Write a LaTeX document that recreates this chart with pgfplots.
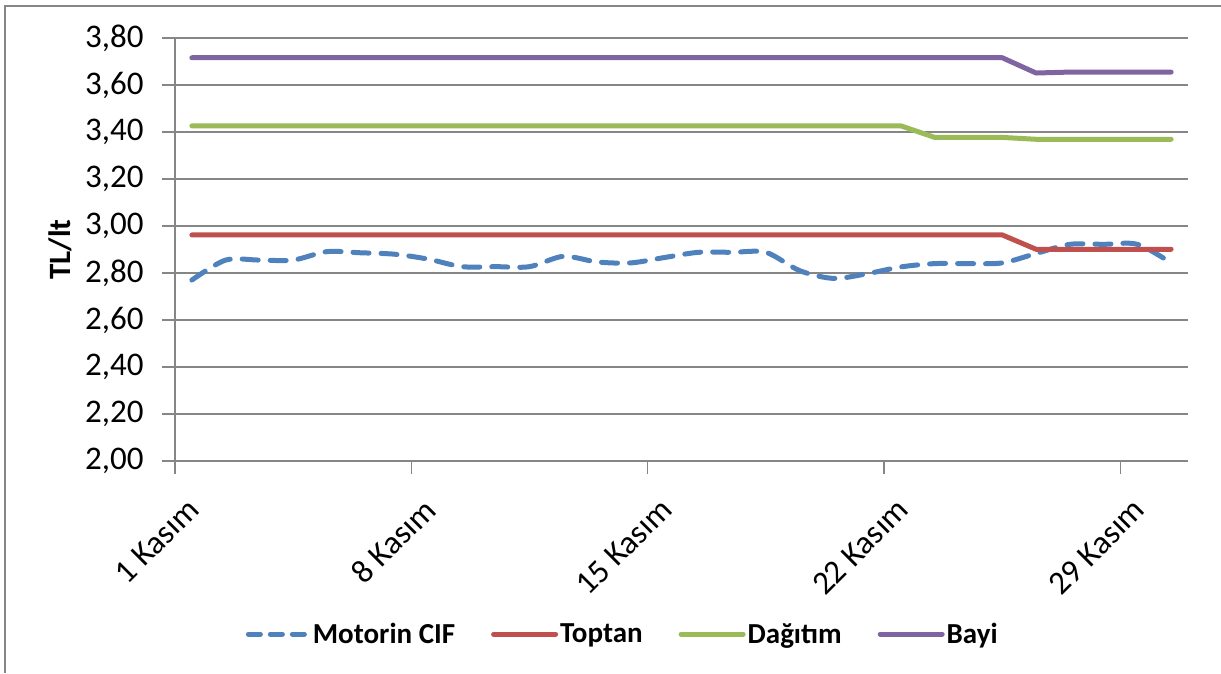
\documentclass[border=0pt]{standalone}
\usepackage{pgfplots}
\pgfplotsset{compat=1.18}
\usepackage{fontspec}
\setmainfont{Carlito}

\definecolor{cifblue}{HTML}{4F81BD}
\definecolor{topred}{HTML}{C0504D}
\definecolor{dagreen}{HTML}{9BBB59}
\definecolor{bayipur}{HTML}{8064A2}
\definecolor{gridgray}{HTML}{868686}

\begin{document}
\begin{tikzpicture}
% 1 px = 1 pt, origin at the lower left corner of the plot area
\useasboundingbox (-175pt,-212pt) rectangle (1046pt,461pt);
\draw[gridgray, line width=1.5pt] (-170pt,-212pt) -- (-170pt,455pt) -- (1046pt,455pt);
\begin{axis}[
    at={(0pt,0pt)}, anchor=south west,
    scale only axis,
    width=1013pt, height=423pt,
    xmin=0.5, xmax=30.5,
    ymin=2, ymax=3.8,
    axis lines=left,
    axis line style={-, draw=gridgray, line width=1.5pt},
    tick align=outside,
    major tick length=13pt,
    tick style={draw=gridgray, line width=1.5pt},
    xtick={0.5,7.5,14.5,21.5,28.5},
    xticklabels={1 Kasım,8 Kasım,15 Kasım,22 Kasım,29 Kasım},
    ytick={2,2.2,2.4,2.6,2.8,3,3.2,3.4,3.6,3.8},
    ymajorgrids,
    grid style={draw=gridgray, line width=1.5pt},
    /pgf/number format/use comma,
    /pgf/number format/fixed,
    /pgf/number format/fixed zerofill,
    /pgf/number format/precision=2,
    /pgf/number format/assume math mode=true,
    ticklabel style={font=\fontsize{33}{38}\selectfont},
    yticklabel style={xshift=-15pt},
    xticklabel style={xshift=21pt, yshift=-28pt, rotate=45, anchor=east},
    ylabel={TL/lt},
    ylabel style={font=\bfseries\fontsize{31}{36}\selectfont, at={(axis description cs:-0.113,0.5)}, rotate=0, anchor=center},
    legend columns=4,
    legend style={at={(0.442,-0.409)}, anchor=center, draw=none,
        font=\bfseries\fontsize{29}{34}\selectfont,
        /tikz/every even column/.append style={column sep=34pt}},
    legend image code/.code={\draw[#1] (0pt,0pt) -- (62pt,0pt);},
    every axis plot/.append style={line width=5pt, line cap=round, line join=round},
]
\addplot[cifblue, smooth, tension=0.5, dash pattern=on 16pt off 12pt,
    legend image code/.code={\draw[cifblue, line width=5pt, line cap=round, dash pattern=on 12pt off 10pt] (2pt,0pt) -- (62pt,0pt);}]
  coordinates {
    (1,2.770) (2,2.855) (3,2.855) (4,2.855) (5,2.891) (6,2.886) (7,2.880)
    (8,2.859) (9,2.827) (10,2.827) (11,2.827) (12,2.871) (13,2.847) (14,2.843)
    (15,2.866) (16,2.888) (17,2.888) (18,2.888) (19,2.810) (20,2.777)
    (21,2.797) (22,2.826) (23,2.840) (24,2.840) (25,2.843) (26,2.883)
    (27,2.922) (28,2.922) (29,2.922) (30,2.843)
  };
\addlegendentry{Motorin CIF}
\addplot[topred] coordinates {
    (1,2.962) (25,2.962) (26,2.901) (30,2.901)
  };
\addlegendentry{Toptan}
\addplot[dagreen] coordinates {
    (1,3.426) (22,3.426) (23,3.377) (25,3.377) (26,3.369) (30,3.369)
  };
\addlegendentry{Dağıtım}
\addplot[bayipur] coordinates {
    (1,3.716) (25,3.716) (26,3.651) (27,3.655) (30,3.655)
  };
\addlegendentry{Bayi}
\end{axis}
\end{tikzpicture}
\end{document}
